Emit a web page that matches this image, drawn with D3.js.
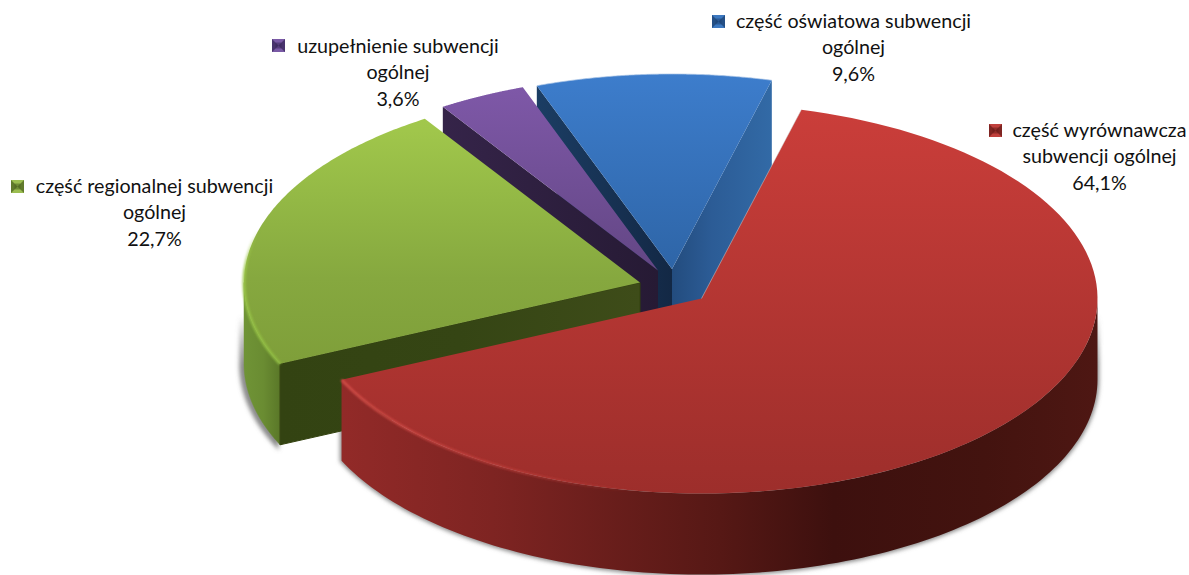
<!DOCTYPE html>
<html><head><meta charset="utf-8">
<script src="https://cdnjs.cloudflare.com/ajax/libs/d3/7.8.5/d3.min.js"></script>
<style>html,body{margin:0;padding:0;background:#fff}svg{display:block}text{font-family:Lato,"Open Sans",sans-serif;font-size:19.7px;fill:#111}</style>
</head><body><svg id="c" width="1189" height="575"></svg>
<script>
// data
const categories = ["część wyrównawcza subwencji ogólnej","część regionalnej subwencji ogólnej","uzupełnienie subwencji ogólnej","część oświatowa subwencji ogólnej"];
const values = [64.1,22.7,3.6,9.6];
const valueLabels = ["64,1%","22,7%","3,6%","9,6%"];
const labelLines = [["część wyrównawcza","subwencji ogólnej"],["część regionalnej subwencji","ogólnej"],["uzupełnienie subwencji","ogólnej"],["część oświatowa subwencji","ogólnej"]];
// layout
const rx=396,ry=195,depth=81;
const apex=[[701.5,298.5],[640,282.5],[658,270.5],[672,269]];
const labelPos=[[1099.5,137],[154.5,193],[398,53],[853.5,28]];
const keyPos=[[989,124],[11,180],[272,39],[712,15]];
const topStops=[
 [[0,"#cb3e3a"],[1,"#9d2e2b"]],
 [[0,"#a4cb4d"],[.11,"#a0c64b"],[.29,"#93b845"],[.49,"#86a83f"],[.7,"#7f9f3a"],[1,"#6f8c31"]],
 [[0,"#8059aa"],[1,"#46345f"]],
 [[0,"#3d7dcc"],[1,"#1f4d82"]]];
const keyColors=[["#c0403c","#6a1c1a"],["#9bbd50","#4d6420"],["#7a5aa6","#38275a"],["#3c78c0","#1c4272"]];
const wallStops=[
 [[0,"#922a28"],[.2,"#7e2422"],[.5,"#561815"],[.65,"#3d100e"],[.85,"#43130f"],[1,"#4e1713"]],
 [[0,"#6f9336"],[.5,"#6a8c32"],[1,"#587527"]],
 [[0,"#352449"],[1,"#261a34"]],
 [[0,"#1b3d63"],[1,"#132845"]]];
const innerStops=[null,[[0,"#334312"],[.5,"#354514"],[1,"#3e4c19"]],null,[[0,"#326aa6"],[.6,"#2c5c96"],[1,"#234c7e"]]];

const startA=14.6*Math.PI/180;
const arcs=d3.pie().sort(null).startAngle(startA).endAngle(startA+2*Math.PI)(values);
const svg=d3.select("#c"), defs=svg.append("defs");
const sx=d3.scaleLinear().domain([-1,1]).range([-rx,rx]);
const sy=d3.scaleLinear().domain([-1,1]).range([-ry,ry]);
const pt=(i,t,dy=0)=>[apex[i][0]+sx(Math.sin(t)),apex[i][1]+sy(-Math.cos(t))+dy];
const line=d3.line();
const arcPts=(i,a,b,dy=0)=>d3.range(0,121).map(k=>pt(i,a+(b-a)*k/120,dy));
function grad(id,x1,y1,x2,y2,stops){
  const g=defs.append("linearGradient").attr("id",id).attr("gradientUnits","userSpaceOnUse")
    .attr("x1",x1).attr("y1",y1).attr("x2",x2).attr("y2",y2);
  stops.forEach(s=>g.append("stop").attr("offset",s[0]).attr("stop-color",s[1]).attr("stop-opacity",s[2]==null?1:s[2]));
}
const f=defs.append("filter").attr("id","blur").attr("filterUnits","userSpaceOnUse").attr("x",0).attr("y",0).attr("width",1189).attr("height",575);
f.append("feGaussianBlur").attr("stdDeviation",2.2);
const f2=defs.append("filter").attr("id","soft").attr("filterUnits","userSpaceOnUse").attr("x",0).attr("y",0).attr("width",1189).attr("height",575);
f2.append("feGaussianBlur").attr("stdDeviation",.9);

arcs.forEach((d,i)=>grad("top"+i,0,apex[i][1]-ry,0,apex[i][1]+ry,topStops[i]));
grad("wall0",342,0,1098,0,wallStops[0]);
grad("wall1",245,0,282,0,wallStops[1]);
grad("wall2",443,0,658,0,wallStops[2]);
grad("wall3",538,0,672,0,wallStops[3]);
grad("inner1",280,0,640,0,innerStops[1]);
grad("inner3",772,0,672,0,innerStops[3]);
grad("rim0",342,0,640,0,[[0,"#d9504b",.95],[.6,"#c9433f",.6],[1,"#c9433f",0]]);
grad("rim1",0,365,0,230,[[0,"#8fbb41",1],[.7,"#9cc84a",.9],[1,"#a4cb4d",0]]);
grad("shadow",0,315,0,365,[[0,"#777",0],[1,"#777",.8]]);

const wrap=(pts)=>line(pts)+"Z";
const outerWall=(i,a,b)=>wrap(arcPts(i,a,b).concat(arcPts(i,b,a,depth)));
const g=svg.append("g");
const p0=Math.PI;
// shadow below the two front slices
const frontA=[Math.max(arcs[0].startAngle,p0/2),arcs[0].endAngle];
const frontB=[arcs[1].startAngle,3*p0/2];
g.append("path").attr("d",outerWall(0,frontA[0],frontA[1])).attr("fill","url(#shadow)").attr("stroke","url(#shadow)").attr("stroke-width",3.5).attr("filter","url(#blur)");
g.append("path").attr("d",outerWall(1,frontB[0],frontB[1])).attr("fill","url(#shadow)").attr("stroke","url(#shadow)").attr("stroke-width",3.5).attr("filter","url(#blur)").attr("transform","translate(-3,1)");

const face=(i,t,dp=depth)=>wrap([apex[i],pt(i,t),pt(i,t,dp),[apex[i][0],apex[i][1]+dp]]);
const topFace=(i,d)=>wrap([apex[i]].concat(arcPts(i,d.startAngle,d.endAngle)));
// blue
g.append("path").attr("d",face(3,arcs[3].endAngle,depth+6)).attr("fill","url(#inner3)");
g.append("path").attr("d",face(3,arcs[3].startAngle)).attr("fill","url(#wall3)");
g.append("path").attr("d",topFace(3,arcs[3])).attr("fill","url(#top3)");
g.append("path").attr("d",line(arcPts(3,arcs[3].startAngle,arcs[3].endAngle))).attr("fill","none").attr("stroke","#a9c4e6").attr("stroke-width",.7);
// purple
g.append("path").attr("d",face(2,arcs[2].startAngle)).attr("fill","url(#wall2)");
g.append("path").attr("d",topFace(2,arcs[2])).attr("fill","url(#top2)");
// green
g.append("path").attr("d",outerWall(1,frontB[0],frontB[1])).attr("fill","url(#wall1)").attr("stroke","url(#wall1)").attr("stroke-width",.5);
g.append("path").attr("d",face(1,arcs[1].startAngle)).attr("fill","url(#inner1)").attr("stroke","#33420f").attr("stroke-width",1).attr("stroke-linejoin","round");
g.append("path").attr("d",topFace(1,arcs[1])).attr("fill","url(#top1)");
g.append("path").attr("d",line(arcPts(1,arcs[1].startAngle,arcs[1].startAngle+1.05))).attr("fill","none").attr("stroke","url(#rim1)").attr("stroke-width",3).attr("filter","url(#soft)");
// red
g.append("path").attr("d",outerWall(0,frontA[0],frontA[1])).attr("fill","url(#wall0)");
g.append("path").attr("d",topFace(0,arcs[0])).attr("fill","url(#top0)");
g.append("path").attr("d",line(arcPts(0,arcs[0].endAngle,arcs[0].endAngle-1.35))).attr("fill","none").attr("stroke","url(#rim0)").attr("stroke-width",2.5).attr("filter","url(#soft)");
g.append("path").attr("d",line([apex[0],pt(0,arcs[0].startAngle)])).attr("fill","none").attr("stroke","#d0d0d0").attr("stroke-width",.7).attr("opacity",.7);

// keys and labels
const keys=svg.append("g").selectAll("g").data(arcs).join("g")
  .attr("transform",(d,i)=>`translate(${keyPos[i]})`);
keys.append("rect").attr("width",13).attr("height",13).attr("fill",(d,i)=>keyColors[i][0]);
keys.append("path").attr("d","M0,0L6.5,6.5L0,13ZM13,0L6.5,6.5L13,13Z").attr("fill",(d,i)=>keyColors[i][1]).attr("opacity",.75);
keys.append("path").attr("d","M3.5,3.5H9.5V9.5H3.5Z").attr("fill",(d,i)=>keyColors[i][1]).attr("opacity",.55);

const labels=svg.append("g").selectAll("text").data(arcs).join("text")
  .attr("text-anchor","middle")
  .attr("transform",(d,i)=>`translate(${labelPos[i]})`);
labels.each(function(d,i){
  const t=d3.select(this);
  labelLines[i].concat(valueLabels[i]).forEach((s,k)=>t.append("tspan").attr("x",0).attr("y",k*26.3).text(s));
});
</script></body></html>
